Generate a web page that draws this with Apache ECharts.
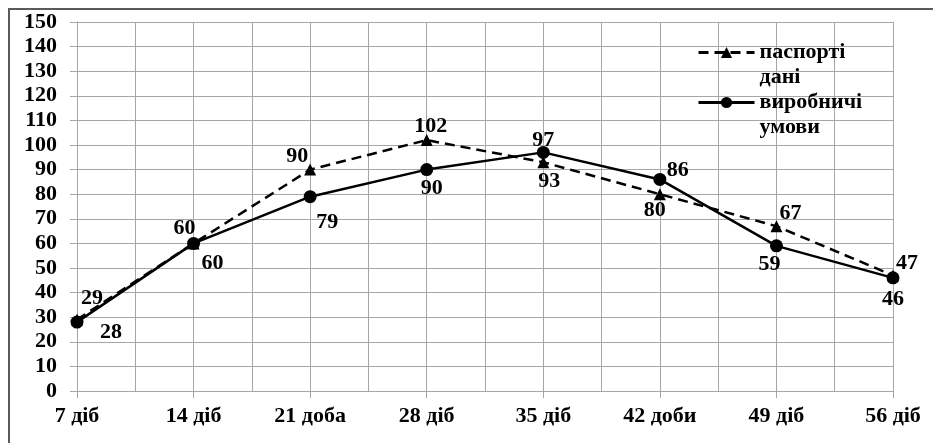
<!DOCTYPE html>
<html>
<head>
<meta charset="utf-8">
<script src="https://cdn.jsdelivr.net/npm/echarts@6/dist/echarts.min.js"></script>
<style>
  html, body { margin: 0; padding: 0; background: #fff; }
  #wrap { position: relative; width: 933px; height: 443px; overflow: hidden; }
  #chart { position: absolute; left: 0; top: 0; width: 933px; height: 443px; }
  /* frame along the left and top edges of the chart area */
  #frame {
    position: absolute; left: 8px; top: 8px; width: 940px; height: 450px;
    box-sizing: border-box;
    border-left: 2px solid #5a5a5a; border-top: 2px solid #5a5a5a;
    pointer-events: none; z-index: 5;
  }
</style>
</head>
<body>
<div id="wrap">
  <div id="chart"></div>
  <div id="frame"></div>
</div>
<script>
// Age of concrete samples (days) and their axis captions
const days = [7, 14, 21, 28, 35, 42, 49, 56];
const categories = ['7 діб', '14 діб', '21 доба', '28 діб', '35 діб', '42 доби', '49 діб', '56 діб'];

// Strength values for each age
const passportValues = [29, 60, 90, 102, 93, 80, 67, 47];
const productionValues = [28, 60, 79, 90, 97, 86, 59, 46];

const seriesNames = ['паспорті дані', 'виробничі умови'];

// Label offsets from each point centre, in pixels
const passportLabelOffsets = [[15, -21], [-9, -15], [-13, -13], [4, -14], [6, 19], [-5, 16], [14, -13], [14, -12]];
const productionLabelOffsets = [[34, 10], [19, 20], [17, 26], [5, 19], [0, -12], [18, -9], [-7, 18], [0, 21]];

const FONT = 'Liberation Serif';
const GRID_COLOR = '#a6a6a6';
const DASH = [10, 6];

function buildPoints(values, offsets) {
  return values.map((v, i) => ({
    value: [days[i], v],
    label: { offset: offsets[i] }
  }));
}

const chart = echarts.init(document.getElementById('chart'), null, { renderer: 'canvas' });

const labelStyle = {
  show: true,
  position: 'inside',
  color: '#000',
  fontFamily: FONT,
  fontWeight: 'bold',
  fontSize: 22,
  formatter: p => p.value[1]
};

chart.setOption({
  animation: false,
  backgroundColor: '#fff',
  grid: { left: 77, right: 40, top: 22, bottom: 52, containLabel: false },
  legend: {
    orient: 'vertical',
    left: 697,
    top: 15,
    padding: 0,
    itemWidth: 56,
    itemHeight: 14,
    itemGap: -25,
    data: [
      { name: seriesNames[0], lineStyle: { width: 3, type: DASH, color: '#000' } },
      { name: seriesNames[1], lineStyle: { width: 3, type: 'solid', color: '#000' } }
    ],
    // blank first row keeps the caption's first line level with the icon
    formatter: name => '\n' + name.replace(' ', '\n'),
    textStyle: {
      fontFamily: FONT,
      fontWeight: 'bold',
      fontSize: 22,
      color: '#000',
      lineHeight: 25
    }
  },
  xAxis: {
    type: 'value',
    min: 7,
    max: 56,
    interval: 7,
    axisLine: { show: true, lineStyle: { color: GRID_COLOR, width: 1 } },
    axisTick: { show: true, length: 7, lineStyle: { color: GRID_COLOR } },
    minorTick: { show: false, splitNumber: 2 },
    minorSplitLine: { show: true, lineStyle: { color: GRID_COLOR, width: 1 } },
    splitLine: { show: true, lineStyle: { color: GRID_COLOR, width: 1 } },
    axisLabel: {
      margin: 14,
      color: '#000',
      fontFamily: FONT,
      fontWeight: 'bold',
      fontSize: 22,
      formatter: v => {
        const i = days.indexOf(v);
        return i >= 0 ? categories[i] : '';
      }
    }
  },
  yAxis: {
    type: 'value',
    min: 0,
    max: 150,
    interval: 10,
    axisLine: { show: true, lineStyle: { color: GRID_COLOR, width: 1 } },
    axisTick: { show: true, length: 7, lineStyle: { color: GRID_COLOR } },
    splitLine: { show: true, lineStyle: { color: GRID_COLOR, width: 1 } },
    axisLabel: {
      margin: 20,
      color: '#000',
      fontFamily: FONT,
      fontWeight: 'bold',
      fontSize: 22
    }
  },
  series: [
    {
      name: seriesNames[0],
      type: 'line',
      symbol: 'triangle',
      symbolSize: 12,
      color: '#000',
      lineStyle: { color: '#000', width: 2.5, type: DASH },
      itemStyle: { color: '#000' },
      label: labelStyle,
      data: buildPoints(passportValues, passportLabelOffsets),
      z: 3
    },
    {
      name: seriesNames[1],
      type: 'line',
      symbol: 'circle',
      symbolSize: 13,
      color: '#000',
      lineStyle: { color: '#000', width: 2.5, type: 'solid' },
      itemStyle: { color: '#000' },
      label: labelStyle,
      data: buildPoints(productionValues, productionLabelOffsets),
      z: 4
    }
  ]
});
</script>
</body>
</html>
